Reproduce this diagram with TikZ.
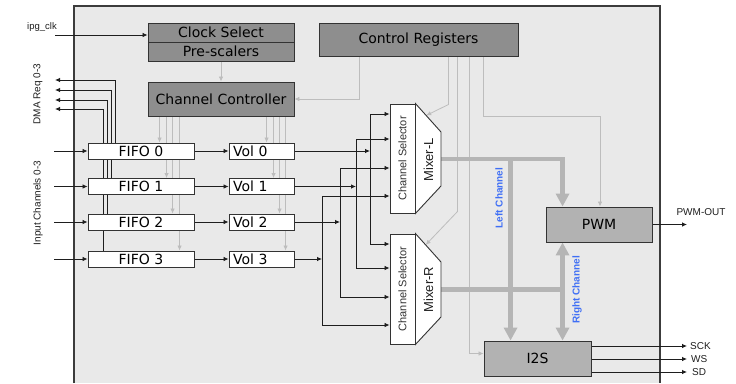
\documentclass[tikz,border=0pt]{standalone}
\usepackage{fontspec}
\setmainfont{Liberation Sans}
\newfontfamily\vfont{DejaVu Sans}
\usetikzlibrary{arrows.meta,calc}
\definecolor{panel}{HTML}{E9E9E9}
\definecolor{panelline}{HTML}{3C3C3C}
\definecolor{edgec}{HTML}{333333}
\definecolor{darkbox}{HTML}{8E8E8E}
\definecolor{lightbox}{HTML}{B2B2B2}
\definecolor{linec}{HTML}{1E1E1E}
\definecolor{greyln}{HTML}{BDBDBD}
\definecolor{fatc}{HTML}{B5B5B5}
\definecolor{chanblue}{HTML}{3F6FF5}
\pgfdeclarelayer{back}
\pgfdeclarelayer{wires}
\pgfsetlayers{back,wires,main}
\tikzset{
  box/.style={draw=edgec, line width=0.9pt, inner sep=0pt,
    font=\vfont\fontsize{14}{16}\selectfont},
  wbox/.style={box, fill=white},
  dbox/.style={box, fill=darkbox},
  lbox/.style={box, fill=lightbox},
  fifobox/.style={wbox, minimum width=106pt, minimum height=16pt},
  volbox/.style={wbox, minimum height=16pt, text width=57pt, inner xsep=4pt, align=left},
  arr/.style={draw=linec, line width=0.8pt, -{Latex[length=5pt,width=4.5pt]}},
  garr/.style={draw=greyln, line width=0.8pt, -{Latex[length=5pt,width=4.5pt]}},
  fat/.style={draw=fatc, line width=4.5pt},
  fatarr/.style={fat, -{Triangle[length=13pt,width=13pt]}},
  fatboth/.style={fat, {Triangle[length=13pt,width=13pt]}-{Triangle[length=13pt,width=13pt]}},
  small/.style={font=\fontsize{10}{12}\selectfont, inner sep=0pt, text=linec},
  chan/.style={font=\bfseries\fontsize{10}{12}\selectfont, text=chanblue, rotate=90, inner sep=0pt},
  seltext/.style={font=\fontsize{11}{12}\selectfont, rotate=90, inner sep=0pt, text=edgec},
  mixtext/.style={font=\fontsize{13}{14}\selectfont, rotate=90, inner sep=0pt, text=linec},
}
\begin{document}
\begin{tikzpicture}[x=1pt,y=-1pt]
\useasboundingbox (0,0) rectangle (736,383);

% outer block
\begin{pgfonlayer}{back}
  \fill[panel] (74,6) rectangle (660,383);
  \draw[panelline, line width=1.3pt] (74,383) -- (74,6) -- (660,6) -- (660,383);
\end{pgfonlayer}

% blocks
\node[dbox, minimum width=146pt, minimum height=19pt] (clk) at (221,32.5) {Clock Select};
\node[dbox, minimum width=146pt, minimum height=19pt] (pre) at (221,51.5) {Pre-scalers};
\node[dbox, minimum width=199pt, minimum height=33pt] (ctrl) at (418.5,39.5) {Control Registers};
\node[dbox, minimum width=146pt, minimum height=34pt] (cc) at (221,99) {Channel Controller};

\node[fifobox] (fifo0) at (141,151) {FIFO 0};
\node[fifobox] (fifo1) at (141,186.5) {FIFO 1};
\node[fifobox] (fifo2) at (141,222) {FIFO 2};
\node[fifobox] (fifo3) at (141,259) {FIFO 3};

\node[volbox] (vol0) at (261.5,151) {Vol 0};
\node[volbox] (vol1) at (261.5,186.5) {Vol 1};
\node[volbox] (vol2) at (261.5,222) {Vol 2};
\node[volbox] (vol3) at (261.5,259) {Vol 3};

\node[lbox, minimum width=106pt, minimum height=35pt] (pwm) at (599,224.5) {PWM};
\node[lbox, minimum width=107pt, minimum height=35pt] (i2s) at (537.5,358.5) {I2S};

% channel selectors and mixers
\node[wbox, minimum width=25pt, minimum height=109pt] (csL) at (402.5,158.5) {};
\node[wbox, minimum width=25pt, minimum height=110pt] (csR) at (402.5,289) {};
\coordinate (mLtr) at (441,132);
\coordinate (mLbr) at (441,186);
\coordinate (mRtr) at (441,262);
\coordinate (mRbr) at (441,317);
\filldraw[fill=white, draw=edgec, line width=0.9pt]
  (csL.north east) -- (mLtr) -- (mLbr) -- (csL.south east) -- cycle;
\filldraw[fill=white, draw=edgec, line width=0.9pt]
  (csR.north east) -- (mRtr) -- (mRbr) -- (csR.south east) -- cycle;
\node[seltext] (tsL) at (csL.center) {Channel Selector};
\node[seltext] (tsR) at (csR.center) {Channel Selector};
\node[mixtext] (tmL) at (428.5,160) {Mixer-L};
\node[mixtext] (tmR) at (428.5,289.5) {Mixer-R};
\coordinate (mLout) at ($(mLtr)!0.5!(mLbr)$);
\coordinate (mRout) at ($(mRtr)!0.5!(mRbr)$);
\coordinate (tipL) at ($(csL.north east)!0.42!(mLtr)$);
\coordinate (tipR) at ($(csR.north east)!0.40!(mRtr)$);

% outside labels
\node[small, font=\fontsize{9.5}{11}\selectfont] (lclk) at (42,27) {ipg\_clk};
\node[small, rotate=90] (ldma) at (38,94) {DMA Req 0-3};
\node[small, rotate=90] (lin) at (38,203) {Input Channels 0-3};
\node[chan] (lleft) at (499,198) {Left Channel};
\node[chan] (lright) at (577,290) {Right Channel};
\node[small] (lpwmout) at (701,212) {PWM-OUT};

\coordinate (clkin) at (55,35);
\coordinate (inx) at (54,0);
\coordinate (outx) at (687,0);
\coordinate (sck) at (687,346);
\coordinate (ws) at (687,359);
\coordinate (sd) at (687,372);
\node[small, anchor=west] (lsck) at (690,346) {SCK};
\node[small, anchor=west] (lws) at (691,359) {WS};
\node[small, anchor=west] (lsd) at (692,372) {SD};

\coordinate (dma0) at (55,80);
\coordinate (dma1) at (55,90);
\coordinate (dma2) at (55,100);
\coordinate (dma3) at (55,109);

% channel controller taps
\coordinate (d0) at ($(cc.south west)+(12,0)$);
\coordinate (d1) at ($(cc.south west)+(19,0)$);
\coordinate (d2) at ($(cc.south west)+(25,0)$);
\coordinate (d3) at ($(cc.south west)+(32,0)$);
\coordinate (e0) at ($(cc.south west)+(119,0)$);
\coordinate (e1) at ($(cc.south west)+(126,0)$);
\coordinate (e2) at ($(cc.south west)+(132,0)$);
\coordinate (e3) at ($(cc.south west)+(138,0)$);

% mixer input buses
\coordinate (bL0) at (370,114); \coordinate (bR0) at (370,244);
\coordinate (bL1) at (356,139); \coordinate (bR1) at (356,268);
\coordinate (bL2) at (340,168); \coordinate (bR2) at (340,297);
\coordinate (bL3) at (322,196); \coordinate (bR3) at (322,325);

% output taps
\coordinate (pL) at ($(pwm.north west)+(17,0)$);
\coordinate (pR) at ($(pwm.south west)+(17,0)$);
\coordinate (iL) at ($(i2s.north west)+(27,0)$);
\coordinate (iR) at ($(i2s.north west)+(79,0)$);

\begin{pgfonlayer}{wires}
  % clock and control
  \draw[arr] (clkin) -- (clkin -| clk.west);
  \draw[garr] (pre.south) -- (cc.north);
  \draw[garr] ($(ctrl.south west)+(41,0)$) |- (cc.east);
  \draw[garr] ($(ctrl.south west)+(130,0)$) -- ++(0,48) -- (tipL);
  \draw[garr] ($(ctrl.south west)+(139,0)$) -- ++(0,155) -- (tipR);
  \draw[garr] ($(ctrl.south west)+(151,0)$) |- ($(i2s.west)+(0,-5)$);
  \draw[garr] ($(ctrl.south west)+(165,0)$) -- ++(0,60) -| ($(pwm.north)+(1,0)$);

  % DMA requests
  \draw[arr] ($(fifo0.north west)+(28,0)$) |- (dma0);
  \draw[arr] ($(fifo1.north west)+(24,0)$) |- (dma1);
  \draw[arr] ($(fifo2.north west)+(20,0)$) |- (dma2);
  \draw[arr] ($(fifo3.north west)+(16,0)$) |- (dma3);

  % inputs
  \foreach \k in {0,1,2,3} {
    \draw[arr] (fifo\k.west -| inx) -- (fifo\k.west);
    \draw[arr] (fifo\k.east) -- (vol\k.west);
    \draw[garr] (d\k) -- (d\k |- fifo\k.north);
    \draw[garr] (e\k) -- (e\k |- vol\k.north);
    \draw[arr] (vol\k.east) -- (vol\k.east -| bL\k);
    \draw[arr] (bR\k) |- (csL.west |- bL\k);
    \draw[arr] (bR\k) -- (bR\k -| csR.west);
  }

  % mixer outputs
  \draw[fatarr] (mLout) -| (pL);
  \draw[fatarr] (iL |- mLout) -- (iL);
  \draw[fat] (mRout) -- (mRout -| pR);
  \draw[fatboth] (pR) -- (iR);

  % external outputs
  \draw[arr] (pwm.east) -- (pwm.east -| outx);
  \draw[arr] (sck -| i2s.east) -- (sck);
  \draw[arr] (ws -| i2s.east) -- (ws);
  \draw[arr] (sd -| i2s.east) -- (sd);
\end{pgfonlayer}
\end{tikzpicture}
\end{document}
